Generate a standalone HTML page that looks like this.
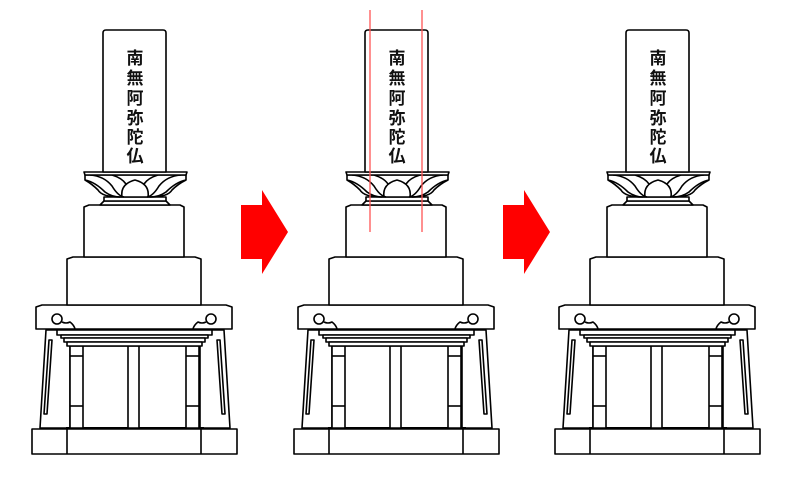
<!DOCTYPE html>
<html><head><meta charset="utf-8"><style>
html,body{margin:0;padding:0;background:#fff;width:800px;height:479px;overflow:hidden}
svg text{font-family:"Liberation Sans","Noto Sans CJK JP","Noto Sans CJK SC",sans-serif;font-weight:bold}
</style></head><body>
<svg width="800" height="479" viewBox="0 0 800 479" xmlns="http://www.w3.org/2000/svg">
<defs>
<g id="m" fill="#fff" stroke="#000" stroke-width="1.6" stroke-linejoin="round">
  <rect x="32" y="429" width="205" height="25"/>
  <line x1="67" y1="429" x2="67" y2="454"/>
  <line x1="201" y1="429" x2="201" y2="454"/>
  <path d="M46 330 L40 428 L230 428 L224 330 Z"/>
  <path d="M49 340 L44 414 L47 414 L52 340 Z"/>
  <path d="M220 340 L225 414 L222 414 L217 340 Z"/>
  <rect x="70" y="346" width="130" height="82" fill="#fff"/>
  <line x1="66" y1="428" x2="204" y2="428" stroke-width="2"/>
  <rect x="70" y="346" width="13" height="82"/>
  <rect x="186" y="346" width="13" height="82"/>
  <line x1="70" y1="356" x2="83" y2="356"/><line x1="70" y1="406" x2="83" y2="406"/>
  <line x1="186" y1="356" x2="199" y2="356"/><line x1="186" y1="406" x2="199" y2="406"/>
  <rect x="128" y="346" width="11" height="82"/>
  <rect x="57" y="330" width="155" height="5"/>
  <rect x="61" y="335" width="147" height="3"/>
  <rect x="64" y="338" width="141" height="4"/>
  <rect x="67" y="342" width="135" height="4"/>
  <path d="M36 307 L42 305 L226 305 L232 307 L232 329 L36 329 Z"/>
  <circle cx="57" cy="319" r="5"/>
  <circle cx="211" cy="319" r="5"/>
  <path d="M62 322 Q66 324 70 322 Q74 325 75 329" fill="none"/>
  <path d="M206 322 Q202 324 198 322 Q194 325 193 329" fill="none"/>
  <path d="M67 305 L67 259 L73 257 L195 257 L201 259 L201 305 Z"/>
  <path d="M84 257 L84 207 L89 205 L180 205 L184 207 L184 257 Z"/>
  <path d="M100 205 L104 201 L166 201 L170 205 Z"/>
  <rect x="104" y="197" width="62" height="4"/>
  <path d="M85 175 L186 175 L186 180 Q178 184 172 190 Q168 197 150 197 L120 197 Q102 197 98 190 Q92 184 85 180 Z"/>
  <path d="M85 180 Q95 182 105 192 Q112 197 120 197" fill="none"/>
  <path d="M186 180 Q176 182 166 192 Q159 197 150 197" fill="none"/>
  <path d="M90 175 Q104 176 112 186 Q118 196 124 197" fill="none"/>
  <path d="M181 175 Q167 176 159 186 Q153 196 147 197" fill="none"/>
  <path d="M122 197 Q120 184 135 180 Q150 184 148 197" fill="none"/>
  <path d="M112 175 Q122 178 126 184" fill="none"/>
  <path d="M158 175 Q148 178 144 184" fill="none"/>
  <path d="M84 172 L187 172 L186 175 L85 175 Z"/>
  <path d="M103 172 L103 33 Q103 30 106 30 L163 30 Q166 30 166 33 L166 172 Z"/>
</g>
<g id="t" fill="#111" font-size="17" text-anchor="middle">
  <text x="135" y="64">南</text>
  <text x="135" y="84">無</text>
  <text x="135" y="104">阿</text>
  <text x="135" y="124">弥</text>
  <text x="135" y="143">陀</text>
  <text x="135" y="162">仏</text>
</g>
</defs>
<use href="#m"/><use href="#t"/>
<g transform="translate(262,0)"><use href="#m"/><use href="#t"/></g>
<g transform="translate(523,0)"><use href="#m"/><use href="#t"/></g>
<line x1="370" y1="10" x2="370" y2="232" stroke="#f55" stroke-width="1.3"/>
<line x1="422" y1="10" x2="422" y2="232" stroke="#f55" stroke-width="1.3"/>
<path d="M241 205 L262 205 L262 190 L288 232 L262 274 L262 259 L241 259 Z" fill="#f00"/>
<path d="M503 205 L524 205 L524 190 L550 232 L524 274 L524 259 L503 259 Z" fill="#f00"/>
</svg>
</body></html>
